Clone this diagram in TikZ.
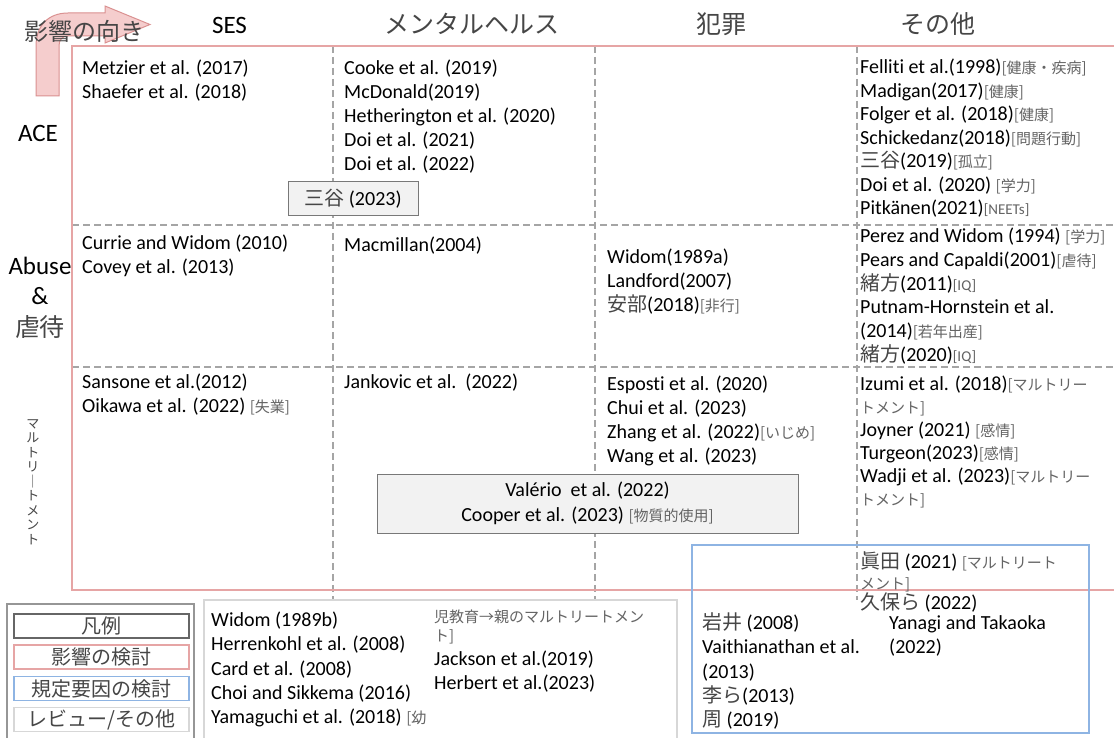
\documentclass[tikz,border=0pt]{standalone}
\usepackage{fontspec}
\usepackage{graphicx}
\setmainfont{Carlito}[Ligatures=CommonOff]
\newfontfamily\jpf{Noto Sans CJK JP}
\definecolor{pinkline}{RGB}{230,165,165}
\definecolor{arrowfill}{RGB}{244,200,200}
\definecolor{arrowline}{RGB}{218,145,145}
\definecolor{blueline}{RGB}{142,180,227}
\definecolor{dashgray}{RGB}{165,165,165}
\definecolor{boxfill}{RGB}{242,242,242}
\definecolor{boxline}{RGB}{120,120,120}
\definecolor{revline}{RGB}{215,215,215}
\definecolor{legline}{RGB}{150,150,150}
\definecolor{notegray}{RGB}{100,100,100}
\definecolor{jpgray}{RGB}{70,70,70}
\newcommand\JP[1]{{\jpf\color{jpgray}#1}}
\newcommand\NoteJ[1]{{\jpf\fontsize{15}{18}\selectfont\color{notegray}#1}}
\newcommand\NoteL[1]{{\fontsize{15}{18}\selectfont\color{notegray}#1}}
\newcommand\Strt{\rule{0pt}{18pt}}
\lineskiplimit=-50pt\relax
\lineskip=0pt\relax
\tikzset{
  cell/.style={anchor=north west, inner sep=0pt, align=left, font=\fontsize{20}{24}\selectfont},
  hdr/.style={anchor=base, inner sep=0pt, font=\fontsize{25}{30}\selectfont},
  hdrj/.style={anchor=base, inner sep=0pt, text=jpgray, font=\jpf\fontsize{25}{30}\selectfont},
  dline/.style={draw=dashgray, line width=1.1pt, dash pattern=on 7pt off 4pt},
  gbox/.style={draw=boxline, fill=boxfill, line width=1pt, inner sep=0pt, align=center, font=\fontsize{20}{25}\selectfont},
  lg/.style={minimum width=175pt, minimum height=24pt, inner sep=0pt, line width=1.2pt, text=jpgray, font=\jpf\fontsize{20}{24}\selectfont}
}
\begin{document}
\lineskiplimit=-50pt\relax
\lineskip=0pt\relax
\begin{tikzpicture}[x=1pt,y=-1pt]
\clip (0,0) rectangle (1114,738);
\fill[white] (0,0) rectangle (1114,738);

% direction arrow
\filldraw[fill=arrowfill, draw=arrowline, line width=1pt, fill opacity=0.9]
  (36,96) -- (36,46) .. controls (36,26) and (48,13) .. (68,13) -- (105,13) -- (105,6)
  -- (150,24.5) -- (105,43) -- (105,36) -- (68,36) .. controls (62,36) and (59,40) .. (59,46)
  -- (59,96) -- cycle;

% grid
\draw[dline] (333,46) -- (333,600);
\draw[dline] (595,46) -- (595,600);
\draw[dline] (857,46) -- (857,600);
\draw[dline] (72,225) -- (1114,225);
\draw[dline] (72,367) -- (1114,367);

% main frame (influence)
\draw[pinkline, line width=1.5pt] (72,46) rectangle (1130,590);

% determinants frame
\draw[blueline, line width=1.3pt] (692,545) rectangle (1089,733);

% review frame and legend frame
\draw[revline, line width=2pt, fill=white] (204,600) rectangle (677,745);
\draw[legline, line width=1.5pt] (7,604) rectangle (194,745);

% gray boxes
\node[gbox, minimum width=130pt, minimum height=34pt] (mitani) at (353,199) {\JP{三谷} (2023)};
\node[gbox, minimum width=421pt, minimum height=59pt] (valerio) at (587.5,503.5)
  {Valério\ \ et al. (2022)\\Cooper et al. (2023) \NoteJ{[物質的使用]}};

% headers
\node[anchor=base, inner sep=0pt, text=jpgray, font=\jpf\fontsize{24}{28}\selectfont] (dir) at (84.5,41) {影響の向き};
\node[hdr] (ses) at (229.5,34) {SES};
\node[hdrj] (mh) at (472,34) {メンタルヘルス};
\node[hdrj] (crime) at (721,34) {犯罪};
\node[hdrj] (other) at (938,34) {その他};

% row labels
\node[hdr] (ace) at (38,142) {ACE};
\node[hdr] (abuse) at (40,275) {Abuse};
\node[hdr] (amp) at (40,305) {\&};
\node[hdrj] (gyaku) at (40,336) {虐待};
\node[inner sep=0pt, align=center, text=jpgray, font=\jpf\fontsize{13}{14.5}\selectfont] (malt) at (33,482)
  {マ\\ル\\ト\\リ\\｜\\ト\\メ\\ン\\ト};

% ACE row
\node[cell] (aceses) at (82,56.4) {\Strt Metzier et al. (2017)\\Shaefer et al. (2018)};
\node[cell] (acemh) at (344,56.4) {\Strt Cooke et al. (2019)\\McDonald(2019)\\Hetherington et al. (2020)\\Doi et al. (2021)\\Doi et al. (2022)};
\node[cell, font=\fontsize{20}{23.5}\selectfont] (aceoth) at (860,55.4)
  {\Strt Felliti et al.(1998)\NoteJ{[健康・疾病]}\\Madigan(2017)\NoteJ{[健康]}\\Folger et al. (2018)\NoteJ{[健康]}\\Schickedanz(2018)\NoteJ{[問題行動]}\\\JP{三谷}(2019)\NoteJ{[孤立]}\\Doi et al. (2020) \NoteJ{[学力]}\\Pitkänen(2021)\NoteL{[NEETs]}};

% Abuse row
\node[cell] (abses) at (82,231.4) {\Strt Currie and Widom (2010)\\Covey et al. (2013)};
\node[cell] (abmh) at (344,233.4) {\Strt Macmillan(2004)};
\node[cell] (abcr) at (607,245.4) {\Strt Widom(1989a)\\Landford(2007)\\\JP{安部}(2018)\NoteJ{[非行]}};
\node[cell, font=\fontsize{20}{23.7}\selectfont] (aboth) at (860,224.4)
  {\Strt Perez and Widom (1994) \NoteJ{[学力]}\\Pears and Capaldi(2001)\NoteJ{[虐待]}\\\JP{緒方}(2011)\NoteL{[IQ]}\\Putnam-Hornstein et al.\\(2014)\NoteJ{[若年出産]}\\\JP{緒方}(2020)\NoteL{[IQ]}};

% Maltreatment row
\node[cell] (mses) at (82,370.4) {\Strt Sansone et al.(2012)\\Oikawa et al. (2022) \NoteJ{[失業]}};
\node[cell] (mmh) at (344,370.4) {\Strt Jankovic et al.\ \ (2022)};
\node[cell] (mcr) at (607,372.4) {\Strt Esposti et al. (2020)\\Chui et al. (2023)\\Zhang et al. (2022)\NoteJ{[いじめ]}\\Wang et al. (2023)};
\node[cell, font=\fontsize{20}{23}\selectfont] (moth) at (860,372.4)
  {\Strt Izumi et al. (2018)\NoteJ{[マルトリー}\\\NoteJ{トメント]}\\Joyner (2021) \NoteJ{[感情]}\\Turgeon(2023)\NoteJ{[感情]}\\Wadji et al. (2023)\NoteJ{[マルトリー}\\\NoteJ{トメント]}};

% determinants
\node[cell, font=\fontsize{20}{20.5}\selectfont] (dtop) at (860,550.4)
  {\Strt\JP{眞田} (2021) \NoteJ{[マルトリート}\\\NoteJ{メント]}\\\JP{久保ら} (2022)};
\node[cell, font=\fontsize{20}{24.2}\selectfont] (dcol1) at (702,611.4)
  {\Strt\JP{岩井} (2008)\\Vaithianathan et al.\\(2013)\\\JP{李ら}(2013)\\\JP{周} (2019)};
\node[cell] (dcol2) at (889,611.4) {\Strt Yanagi and Takaoka\\(2022)};

% review / other
\node[cell, font=\fontsize{20}{24.2}\selectfont] (rcol1) at (211,608.4)
  {\Strt Widom (1989b)\\Herrenkohl et al. (2008)\\Card et al. (2008)\\Choi and Sikkema (2016)\\Yamaguchi et al. (2018) \NoteJ{[幼}};
\node[cell, font=\fontsize{15}{19}\selectfont] (rcol2a) at (434,604.7)
  {\Strt\NoteJ{児教育→親のマルトリートメン}\\\NoteJ{ト]}};
\node[cell] (rcol2b) at (434,647.4) {\Strt Jackson et al.(2019)\\Herbert et al.(2023)};

% legend
\node[lg, draw=black!60] (lg1) at (101.5,626) {凡例};
\node[lg, draw=pinkline] (lg2) at (101.5,657) {影響の検討};
\node[lg, draw=blueline] (lg3) at (101.5,688.5) {規定要因の検討};
\node[lg, draw=revline] (lg4) at (101.5,719.5) {レビュー/その他};
\end{tikzpicture}
\end{document}
